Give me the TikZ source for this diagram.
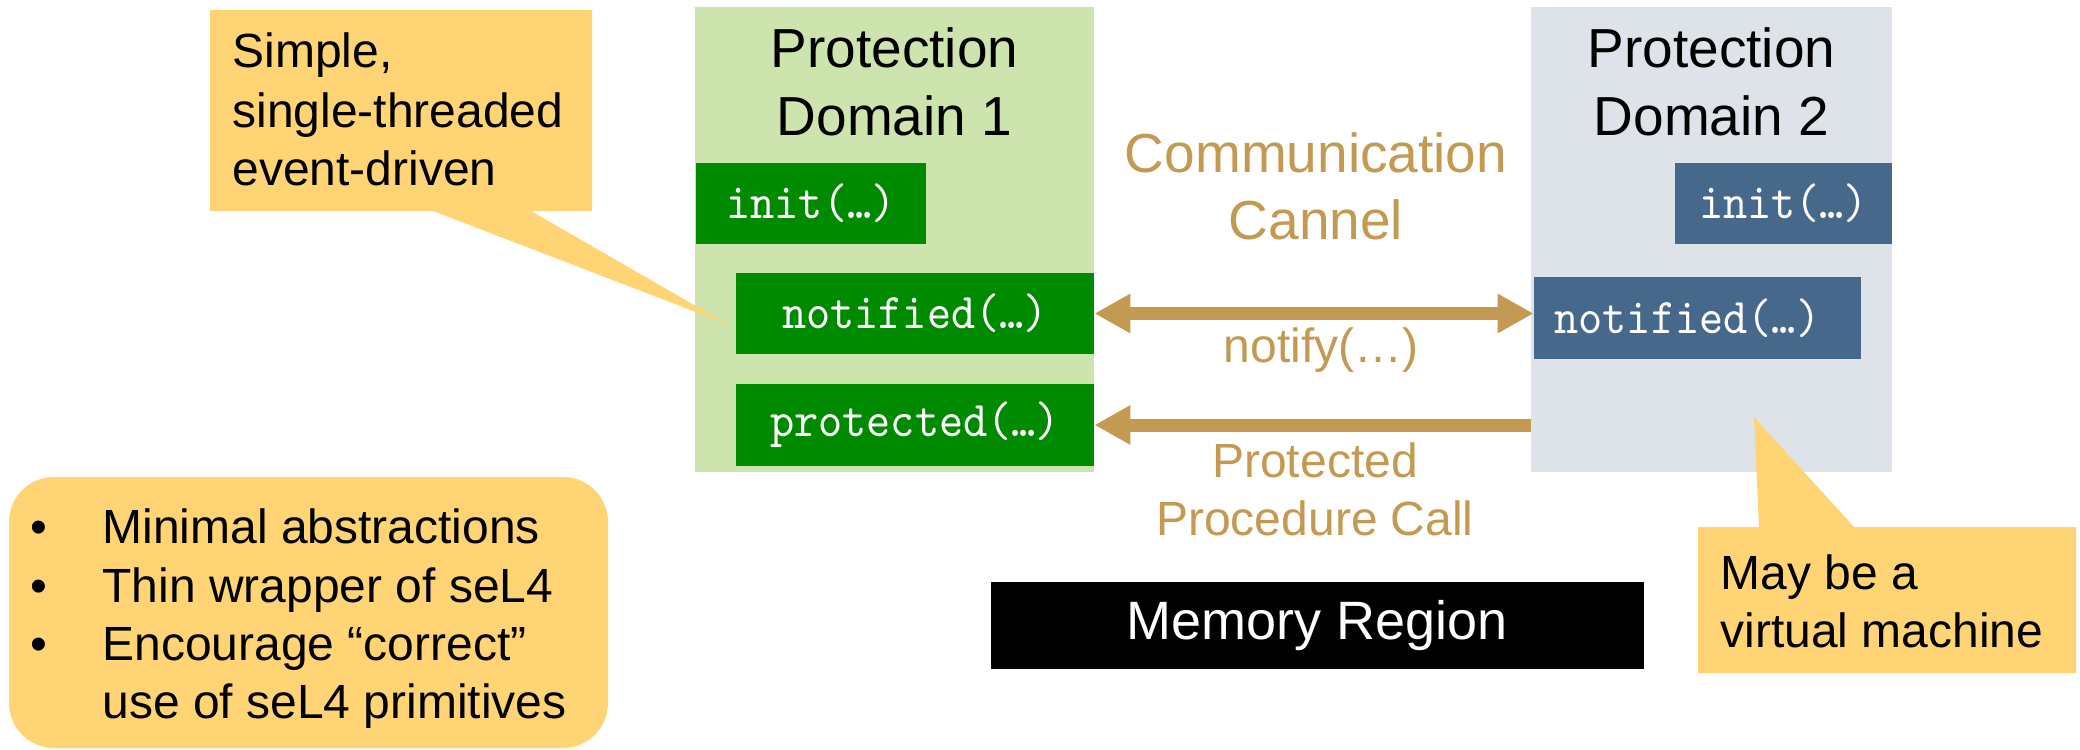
\documentclass[tikz,border=0pt]{standalone}
\usepackage{fontspec}
\setmainfont{Liberation Sans}
\newfontfamily\codefont{lmmono10-regular.otf}[FakeStretch=0.92]
\usetikzlibrary{arrows.meta}

\definecolor{pdgreen}{RGB}{205,228,174}
\definecolor{fngreen}{RGB}{0,138,0}
\definecolor{pdgray}{RGB}{222,227,234}
\definecolor{fnblue}{RGB}{70,104,139}
\definecolor{chtan}{RGB}{196,154,82}
\definecolor{noteyellow}{RGB}{255,212,117}

\tikzset{
  domain/.style={fill=#1, draw=none, inner sep=0pt},
  fnbox/.style={fill=#1, draw=none, inner sep=0pt, text=white,
    font=\codefont\fontsize{25}{30}\selectfont},
  txt/.style={inner sep=0pt, anchor=base},
  txtl/.style={inner sep=0pt, anchor=base west},
  bigtxt/.style={font=\fontsize{27.5}{33}\selectfont},
  midtxt/.style={font=\fontsize{24}{29}\selectfont},
  chan/.style={draw=chtan, line width=6.5pt},
  tip/.tip={Triangle[length=18pt,width=18.5pt]},
}

\begin{document}
\begin{tikzpicture}[x=0.5pt,y=-0.5pt]
\useasboundingbox (0,0) rectangle (2080,749);
\fill[white] (0,0) rectangle (2080,749);

% protection domains
\node[domain=pdgreen, minimum width=199.5pt, minimum height=232.5pt] (pd1) at (894.5,239.5) {};
\node[domain=pdgray, minimum width=180.5pt, minimum height=232.5pt] (pd2) at (1711.5,239.5) {};

\node[txt, bigtxt] (pd1a) at (894.5,68) {Protection};
\node[txt, bigtxt] (pd1b) at (894.5,135) {Domain 1};
\node[txt, bigtxt] (pd2a) at (1711.5,68) {Protection};
\node[txt, bigtxt] (pd2b) at (1711.5,135) {Domain 2};

% entry points
\node[fnbox=fngreen, minimum width=115pt, minimum height=40.5pt] (ginit) at (811,203.5) {init(…)};
\node[fnbox=fngreen, minimum width=179pt, minimum height=40.5pt] (gnotified) at (915,313.5) {notified(…)};
\node[fnbox=fngreen, minimum width=179pt, minimum height=41pt] (gprotected) at (915,425) {protected(…)};
\node[fnbox=fnblue, minimum width=108.5pt, minimum height=40.5pt] (binit) at (1783.5,203.5) {init(…)};
\node[fnbox=fnblue, minimum width=163.5pt, minimum height=41pt, text width=143pt, align=left] (bnotified) at (1697.5,318) {notified(…)};

% channel
\node[txt, bigtxt, text=chtan] (ch1) at (1316,172) {Communication};
\node[txt, bigtxt, text=chtan] (ch2) at (1316,239) {Cannel};

\draw[chan, tip-tip] (gnotified.east) -- (gnotified.east -| bnotified.west);
\draw[chan, -tip] (pd2.west |- gprotected.east) -- (gprotected.east);

\node[txt, midtxt, text=chtan] (ntf) at (1321,362) {notify(…)};
\node[txt, midtxt, text=chtan] (ppc1) at (1315,477) {Protected};
\node[txt, midtxt, text=chtan] (ppc2) at (1315,535) {Procedure Call};

% memory region
\node[fill=black, text=white, inner sep=0pt, minimum width=326.5pt, minimum height=43.5pt,
  font=\fontsize{27}{32}\selectfont] (mem) at (1317.5,625.5) {Memory Region};

% callouts
\fill[noteyellow] (210,10) -- (592,10) -- (592,211) -- (531,211) -- (727,324)
  -- (433,211) -- (210,211) -- cycle;
\node[txtl, midtxt] (c1a) at (232,68) {Simple,};
\node[txtl, midtxt] (c1b) at (232,127) {single-threaded};
\node[txtl, midtxt] (c1c) at (232,185) {event-driven};

\fill[noteyellow] (1698,527) -- (1759,527) -- (1754,417) -- (1854,527)
  -- (2076,527) -- (2076,673) -- (1698,673) -- cycle;
\node[txtl, midtxt] (c2a) at (1720,589) {May be a};
\node[txtl, midtxt] (c2b) at (1720,647) {virtual machine};

\fill[noteyellow, rounded corners=22.5pt] (9,477) rectangle (608,748);
\node[txt, midtxt] (b1) at (39,543) {•};
\node[txt, midtxt] (b2) at (39,602) {•};
\node[txt, midtxt] (b3) at (39,660) {•};
\node[txtl, midtxt] (l1) at (102,543) {Minimal abstractions};
\node[txtl, midtxt] (l2) at (102,602) {Thin wrapper of seL4};
\node[txtl, midtxt] (l3) at (102,660) {Encourage “correct”};
\node[txtl, midtxt] (l4) at (102,718) {use of seL4 primitives};
\end{tikzpicture}
\end{document}
